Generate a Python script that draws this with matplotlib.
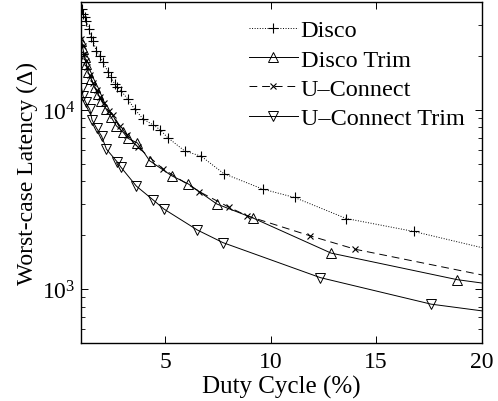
import numpy as np
import matplotlib
matplotlib.use("Agg")
import matplotlib.pyplot as plt

plt.rcParams['font.family'] = ['Liberation Serif', 'DejaVu Serif']
plt.rcParams['mathtext.fontset'] = 'stix'

# values (duty cycle %, worst-case latency)
disco_x = [1.06, 1.11, 1.19, 1.27, 1.38, 1.50, 1.58, 1.74, 1.90, 2.06, 2.30, 2.44,
           2.61, 2.74, 2.91, 3.24, 3.56, 3.97, 4.45, 4.76, 5.12, 5.94, 6.71, 7.78,
           9.63, 11.14, 13.59, 16.79, 21.5]
disco_y = [36600, 34400, 33000, 31500, 28400, 25500, 24400, 21400, 20100, 18500,
           16300, 15200, 14000, 13400, 12800, 11500, 10100, 8900, 8240, 7780, 7020,
           5900, 5530, 4420, 3620, 3250, 2480, 2100, 1550]

disco_trim_x = [1.03, 1.11, 1.19, 1.27, 1.35, 1.50, 1.66, 1.82, 1.98, 2.21, 2.45,
                2.69, 3.01, 3.24, 3.69, 4.27, 5.31, 6.10, 7.45, 9.19, 12.87, 18.85, 23.0]
disco_trim_y = [24400, 21900, 19800, 18100, 16300, 14900, 13400, 12300, 11300, 10100,
                9100, 8170, 7530, 6950, 6550, 5210, 4300, 3870, 2990, 2490, 1590, 1130, 970]

uconn_x = [1.03, 1.09, 1.16, 1.23, 1.30, 1.42, 1.58, 1.75, 1.92, 2.11, 2.32, 2.53,
           2.85, 3.20, 3.72, 4.92, 6.63, 8.05, 8.88, 11.85, 14.02, 22.0]
uconn_y = [24900, 22800, 20600, 18800, 17400, 15700, 14200, 12900, 11800, 10900,
           9860, 9380, 8170, 7240, 6190, 4680, 3500, 2860, 2570, 1990, 1670, 1077]

uconn_trim_x = [1.04, 1.11, 1.23, 1.43, 1.54, 1.75, 1.99, 2.22, 2.74, 2.90, 3.64,
                4.42, 4.95, 6.53, 7.74, 12.36, 17.61, 22.0]
uconn_trim_y = [13300, 12000, 11100, 10100, 8790, 7930, 7160, 6050, 5120, 4810,
                3760, 3160, 2800, 2140, 1820, 1160, 825, 705]

fig = plt.figure(figsize=(4.98, 4.02), dpi=100)
ax = fig.add_axes([0.162, 0.144, 0.805, 0.848])

lw = 0.7
ax.plot(disco_x, disco_y, color='k', ls=':', lw=lw, marker='+', ms=7, mew=0.8,
        label='Disco')
ax.plot(disco_trim_x, disco_trim_y, color='k', ls='-', lw=lw, marker='^', ms=7.5,
        mfc='none', mew=0.7, label='Disco Trim')
ax.plot(uconn_x, uconn_y, color='k', ls='--', lw=lw, marker='x', ms=5, mew=0.8,
        dashes=(8, 5), label='U\u2013Connect')
ax.plot(uconn_trim_x, uconn_trim_y, color='k', ls='-', lw=lw, marker='v', ms=7.5,
        mfc='none', mew=0.7, label='U\u2013Connect Trim')

ax.set_yscale('log')
ax.set_xlim(1, 20)
ax.set_ylim(500, 40000)
ax.set_xticks([5, 10, 15, 20])
ax.tick_params(which='both', direction='in', top=True, right=True, labelsize=17)
ax.tick_params(axis='x', pad=6)
ax.tick_params(which='major', length=5, width=0.7)
ax.tick_params(which='minor', length=3, width=0.6)
for s in ax.spines.values():
    s.set_linewidth(1.0)

ax.set_xlabel('Duty Cycle (%)', fontsize=18, labelpad=2)
ax.set_ylabel('Worst-case Latency (\u0394)', fontsize=17, labelpad=3)

ax.legend(loc='upper left', bbox_to_anchor=(0.42, 0.95), frameon=False, fontsize=17.5,
          handlelength=2.0, handletextpad=0.12, labelspacing=0.3, borderaxespad=0,
          borderpad=0)

fig.savefig('out.png', dpi=100)
